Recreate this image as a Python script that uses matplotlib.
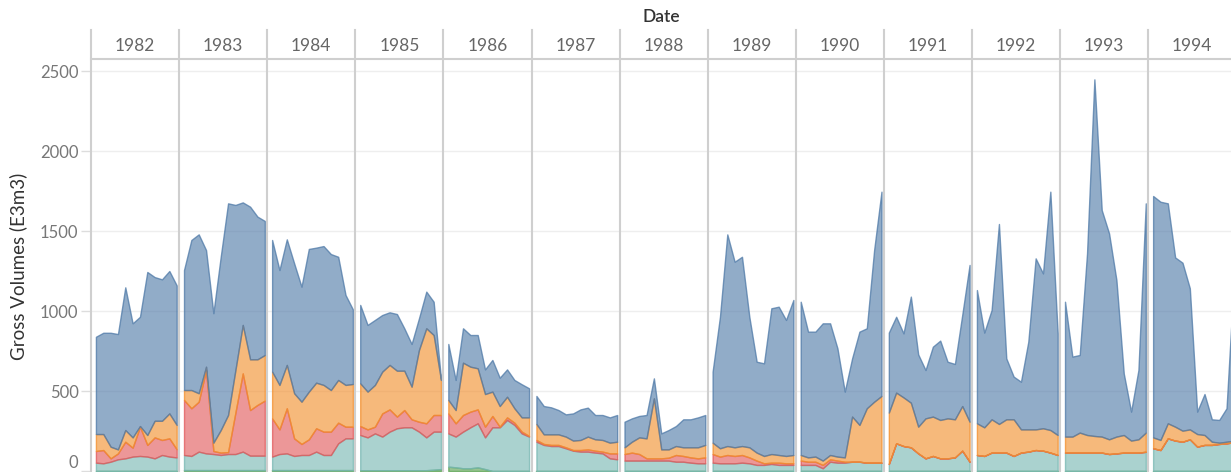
import matplotlib
matplotlib.use("Agg")
import matplotlib.pyplot as plt
from matplotlib.lines import Line2D
from matplotlib.colors import to_rgba

plt.rcParams["font.family"] = ["Lato", "DejaVu Sans"]

# ── data: monthly gross volumes (E3m3), one row per year 1982..1994 ──────────
YEARS = [1982, 1983, 1984, 1985, 1986, 1987, 1988, 1989, 1990, 1991, 1992, 1993, 1994]
MONTHS = [1, 2, 3, 4, 5, 6, 7, 8, 9, 10, 11, 12]
YTICKS = [0, 500, 1000, 1500, 2000, 2500]

GREEN = [
    0, 0, 0, 0, 0, 0, 0, 0, 0, 0, 0, 0,
    5, 5, 5, 5, 5, 5, 5, 5, 5, 5, 5, 5,
    5, 5, 5, 5, 5, 5, 5, 5, 5, 5, 5, 5,
    5, 5, 5, 5, 5, 5, 5, 5, 5, 5, 8, 12,
    27, 23, 17, 17, 23, 12, 0, 0, 0, 0, 0, 0,
    0, 0, 0, 0, 0, 0, 0, 0, 0, 0, 0, 0,
    0, 0, 0, 0, 0, 0, 0, 0, 0, 0, 0, 0,
    0, 0, 0, 0, 0, 0, 0, 0, 0, 0, 0, 0,
    0, 0, 0, 0, 0, 0, 0, 0, 0, 0, 0, 0,
    0, 0, 0, 0, 0, 0, 0, 0, 0, 0, 0, 0,
    0, 0, 0, 0, 0, 0, 0, 0, 0, 0, 0, 0,
    0, 0, 0, 0, 0, 0, 0, 0, 0, 0, 0, 0,
    0, 0, 0, 0, 0, 0, 0, 0, 0, 0, 0, 0,
]
TEAL = [
    52, 48, 58, 73, 79, 90, 94, 90, 79, 100, 90, 85,
    95, 89, 116, 105, 101, 95, 101, 101, 116, 91, 91, 91,
    85, 101, 105, 89, 95, 95, 116, 95, 95, 168, 199, 199,
    220, 205, 230, 210, 241, 262, 268, 268, 241, 205, 238, 234,
    208, 192, 229, 256, 275, 198, 273, 273, 319, 288, 235, 215,
    183, 163, 156, 156, 142, 127, 121, 121, 115, 110, 79, 73,
    65, 65, 65, 65, 65, 65, 65, 58, 58, 52, 48, 48,
    52, 48, 48, 48, 52, 48, 38, 38, 44, 38, 38, 38,
    38, 38, 38, 17, 58, 52, 52, 58, 58, 52, 52, 52,
    44, 173, 156, 148, 110, 79, 94, 79, 79, 85, 127, 58,
    100, 94, 115, 115, 115, 94, 115, 121, 131, 127, 115, 100,
    115, 115, 115, 115, 115, 115, 106, 110, 115, 115, 115, 120,
    142, 131, 204, 190, 183, 198, 152, 163, 163, 169, 173, 180,
]
RED = [
    73, 83, 21, 37, 104, 56, 183, 73, 131, 94, 114, 51,
    344, 298, 312, 521, 19, 15, 12, 259, 489, 285, 317, 344,
    239, 154, 282, 110, 69, 98, 146, 146, 146, 129, 73, 73,
    56, 50, 42, 145, 139, 73, 108, 50, 62, 88, 104, 104,
    125, 83, 104, 98, 87, 67, 71, 4, 16, 14, 11, 4,
    11, 6, 7, 7, 6, 4, 10, 14, 12, 11, 31, 37,
    41, 50, 41, 14, 14, 14, 18, 42, 36, 33, 31, 37,
    54, 42, 52, 46, 48, 37, 27, 10, 8, 14, 10, 10,
    27, 20, 20, 21, 15, 13, 6, 0, 0, 0, 0, 0,
    0, 0, 0, 0, 0, 0, 0, 0, 0, 0, 0, 0,
    0, 0, 0, 0, 0, 0, 0, 0, 0, 0, 0, 0,
    0, 0, 0, 0, 0, 0, 0, 0, 0, 0, 0, 0,
    0, 0, 0, 0, 0, 0, 0, 0, 0, 0, 0, 0,
]
ORANGE = [
    106, 100, 73, 25, 73, 64, 4, 62, 104, 120, 156, 152,
    62, 114, 53, 21, 52, 141, 232, 266, 303, 317, 285, 285,
    292, 278, 271, 282, 264, 298, 285, 292, 260, 267, 261, 267,
    267, 236, 261, 261, 278, 287, 246, 204, 448, 594, 500, 219,
    84, 83, 327, 281, 257, 204, 152, 129, 129, 90, 89, 116,
    100, 60, 66, 66, 67, 59, 63, 80, 71, 73, 67, 73,
    42, 68, 104, 125, 375, 56, 52, 56, 54, 63, 69, 78,
    71, 52, 56, 54, 56, 63, 50, 46, 54, 48, 46, 52,
    35, 27, 32, 27, 27, 25, 27, 282, 230, 340, 381, 417,
    321, 317, 304, 279, 167, 250, 246, 240, 250, 238, 279, 250,
    198, 179, 208, 179, 208, 229, 145, 139, 129, 140, 141, 125,
    100, 100, 125, 110, 104, 100, 92, 105, 110, 75, 83, 120,
    68, 63, 94, 87, 69, 62, 79, 62, 20, 8, 10, 10,
]
BLUE = [
    608, 633, 712, 721, 892, 713, 683, 1019, 898, 884, 890, 872,
    750, 938, 993, 729, 809, 1083, 1323, 1032, 766, 954, 892, 838,
    823, 718, 785, 812, 719, 892, 844, 868, 850, 770, 562, 466,
    490, 417, 406, 354, 329, 354, 265, 267, 198, 229, 208, 5,
    350, 188, 215, 198, 208, 154, 198, 177, 171, 177, 207, 182,
    175, 177, 169, 152, 139, 170, 191, 181, 152, 156, 158, 167,
    160, 146, 134, 146, 125, 100, 121, 125, 175, 175, 187, 187,
    444, 822, 1323, 1160, 1183, 816, 568, 579, 911, 927, 850, 969,
    958, 786, 781, 858, 823, 677, 411, 364, 583, 500, 948, 1277,
    500, 474, 400, 663, 452, 302, 437, 496, 354, 346, 569, 980,
    833, 592, 683, 1250, 381, 267, 298, 548, 1069, 968, 1490, 635,
    843, 500, 485, 1135, 2229, 1416, 1287, 979, 385, 181, 433, 1433,
    1509, 1489, 1375, 1058, 1050, 882, 140, 256, 140, 142, 209, 1010,
]

SERIES = [GREEN, TEAL, RED, ORANGE, BLUE]
COLORS = ["#59a14f", "#76b7b2", "#e15759", "#f28e2b", "#4e79a7"]

# ── layout (pixels) ───────────────────────────────────────────────────────────
W, H = 1231, 472
PL = 91        # left edge of first pane
PW = 88.1      # pane width
PTOP = 60      # top of panes
PBOT = 471     # value 0
HTOP = 30      # top of year header
GRID = "#cfcfcf"


def fx(x):
    return x / W


def fy(y):
    return 1 - y / H


fig = plt.figure(figsize=(W / 100, H / 100), dpi=100)
fig.patch.set_facecolor("white")

for k, year in enumerate(YEARS):
    ax = fig.add_axes([fx(PL + k * PW), fy(PBOT), PW / W, (PBOT - PTOP) / H])
    sl = slice(k * 12, k * 12 + 12)
    polys = ax.stackplot(MONTHS, *[s[sl] for s in SERIES])
    for p, c in zip(polys, COLORS):
        p.set_facecolor(to_rgba(c, 0.62))
        p.set_edgecolor(to_rgba(c, 0.75))
        p.set_linewidth(1.0)
    ax.set_xlim(0.33, 12.33)
    ax.set_ylim(0, 2569)
    ax.set_xticks([])
    ax.set_yticks(YTICKS)
    ax.set_axisbelow(True)
    ax.yaxis.grid(True, color="#eeeeee", lw=1)
    for s in ax.spines.values():
        s.set_visible(False)
    if k == 0:
        ax.tick_params(axis="y", length=7, width=1, color="#dddddd",
                       labelsize=12, labelcolor="#777777", pad=2)
        ax.yaxis.get_major_ticks()[0].label1.set_verticalalignment("bottom")
    else:
        ax.tick_params(axis="y", length=0, labelleft=False)
    ax.text(0.5, (PBOT - 46) / (PBOT - PTOP), str(year), transform=ax.transAxes,
            ha="center", va="center", fontsize=12.5, color="#666666",
            clip_on=False)

# pane separators and header lines
for k in range(len(YEARS)):
    x = PL + k * PW
    fig.add_artist(Line2D([fx(x), fx(x)], [fy(HTOP), fy(H)],
                          transform=fig.transFigure, color=GRID, lw=1.5))
fig.add_artist(Line2D([fx(PL), 1], [fy(59), fy(59)],
                      transform=fig.transFigure, color=GRID, lw=1.5))

fig.text(fx(661), fy(17), "Date", ha="center", va="center",
         fontsize=12.5, fontweight="semibold", color="#333333")
fig.text(fx(18), fy(266), "Gross Volumes (E3m3)", rotation=90,
         ha="center", va="center", fontsize=13.5, color="#333333")

fig.savefig("out.png", dpi=100, facecolor="white")
